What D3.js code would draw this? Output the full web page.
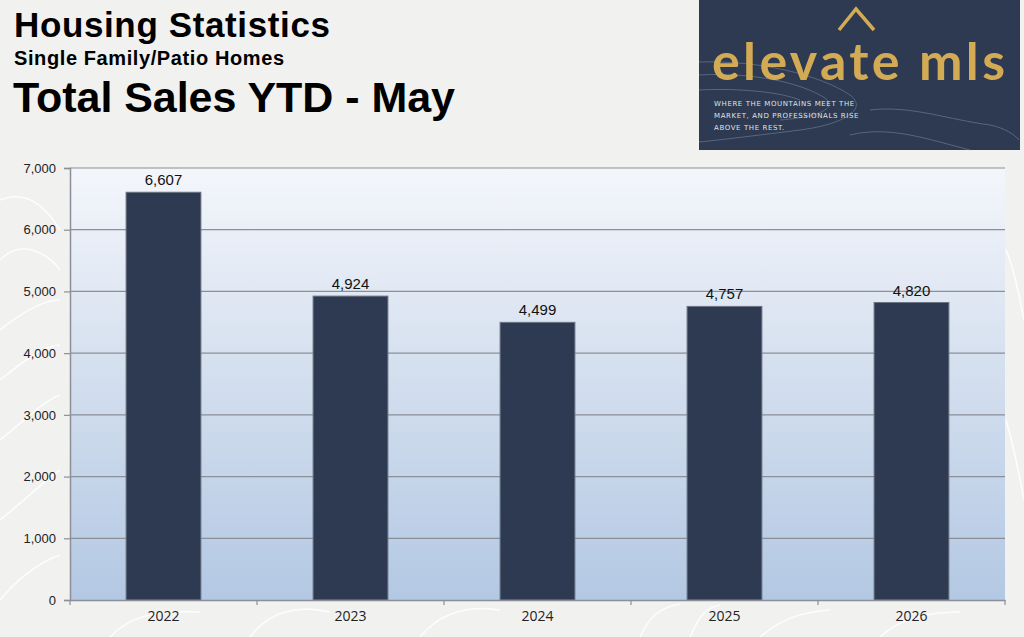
<!DOCTYPE html>
<html>
<head>
<meta charset="utf-8">
<script src="https://cdn.jsdelivr.net/npm/d3@7"></script>
<style>
  html, body { margin: 0; padding: 0; background: #f1f1f0; }
  svg { display: block; }
</style>
</head>
<body>
<svg id="chart" width="1024" height="637"></svg>
<script>
const categories = ["2022", "2023", "2024", "2025", "2026"];
const values = [6607, 4924, 4499, 4757, 4820];
const yTicks = [0, 1000, 2000, 3000, 4000, 5000, 6000, 7000];
const titleLines = ["Housing Statistics", "Single Family/Patio Homes", "Total Sales YTD - May"];
const logoName = "elevate mls";
const logoTagline = ["WHERE THE MOUNTAINS MEET THE", "MARKET, AND PROFESSIONALS RISE", "ABOVE THE REST."];

const svg = d3.select("#chart");
const W = 1024, H = 637;
const m = { left: 70, right: 19, top: 168, bottom: 37 };
const pw = W - m.left - m.right, ph = H - m.top - m.bottom;

const defs = svg.append("defs");
const grad = defs.append("linearGradient").attr("id", "plotGrad")
  .attr("x1", 0).attr("y1", 0).attr("x2", 0).attr("y2", 1);
grad.append("stop").attr("offset", "0%").attr("stop-color", "#f4f6fb");
grad.append("stop").attr("offset", "45%").attr("stop-color", "#d5e0ef");
grad.append("stop").attr("offset", "100%").attr("stop-color", "#b3c8e3");

// page background
svg.append("rect").attr("width", W).attr("height", H).attr("fill", "#f1f1f0");

// faint contour lines in background
const contour = svg.append("g").attr("fill", "none").attr("stroke", "#ffffff").attr("stroke-width", 1.6).attr("opacity", 0.9);
const contourPaths = [
  "M0,200 C25,190 45,205 60,230",
  "M0,260 C20,240 45,250 60,270",
  "M0,330 C25,310 45,300 60,300",
  "M0,380 C25,360 45,345 60,345",
  "M0,440 C25,420 45,400 60,395",
  "M0,520 C25,500 45,480 60,470",
  "M0,600 C20,575 45,560 60,555",
  "M110,637 C130,615 160,610 200,612",
  "M250,637 C270,610 300,605 330,612",
  "M420,637 C440,612 470,605 500,610",
  "M640,637 C650,615 660,608 680,604",
  "M690,637 C700,615 705,608 720,605",
  "M760,637 C780,620 800,612 830,610",
  "M880,637 C900,618 930,612 960,612",
  "M1006,250 C1015,270 1020,300 1024,320",
  "M1006,420 C1015,450 1020,480 1024,500"
];
contour.selectAll("path").data(contourPaths).join("path").attr("d", d => d);

// titles
const tf = "Liberation Sans, Arial, sans-serif";
svg.append("text").attr("x", 14).attr("y", 37).text(titleLines[0])
  .attr("font-family", tf).attr("font-weight", "bold")
  .attr("font-size", 35).attr("textLength", 316).attr("fill", "#000");
svg.append("text").attr("x", 14).attr("y", 65).text(titleLines[1])
  .attr("font-family", tf).attr("font-weight", "bold")
  .attr("font-size", 20).attr("textLength", 270).attr("fill", "#000");
svg.append("text").attr("x", 13).attr("y", 112).text(titleLines[2])
  .attr("font-family", tf).attr("font-weight", "bold")
  .attr("font-size", 43).attr("textLength", 442).attr("fill", "#000");

// logo
const logo = svg.append("g");
logo.append("rect").attr("x", 699).attr("y", 0).attr("width", 321).attr("height", 150).attr("fill", "#2d3a51");
const lc = logo.append("g").attr("fill", "none").attr("stroke", "#7d8aa3").attr("stroke-width", 1).attr("opacity", 0.55);
["M699,62 C760,60 820,75 850,95 C870,110 840,125 800,130 C760,135 720,140 699,142",
 "M699,75 C750,72 800,82 825,98 C840,110 810,118 780,120",
 "M699,90 C740,88 780,92 800,100",
 "M870,110 C910,105 950,120 990,125 C1005,128 1015,135 1019,140",
 "M850,135 C890,125 930,140 970,150"].forEach(d => lc.append("path").attr("d", d));
logo.append("path").attr("d", "M839,30 L856,9 L874,30")
  .attr("fill", "none").attr("stroke", "#d4ab55").attr("stroke-width", 3.5);
logo.append("text").attr("x", 712).attr("y", 80)
  .attr("font-family", "Lato, Inter, sans-serif").attr("font-weight", "bold")
  .attr("font-size", 52).attr("fill", "#d4ab55").attr("textLength", 293).text(logoName);
logo.selectAll("text.tag").data(logoTagline).join("text").attr("class", "tag")
  .attr("x", 714).attr("y", (d, i) => 106 + i * 12)
  .attr("font-family", "DejaVu Sans, sans-serif").attr("font-size", 7)
  .attr("letter-spacing", 0.6).attr("fill", "#dfe3ea").text(d => d);

// scales
const x = d3.scaleBand().domain(categories).range([m.left, m.left + pw]).paddingInner(0.6).paddingOuter(0.3);
const y = d3.scaleLinear().domain([0, 7000]).range([m.top + ph, m.top]);

// plot area
svg.append("rect").attr("x", m.left).attr("y", m.top).attr("width", pw).attr("height", ph).attr("fill", "url(#plotGrad)");

// gridlines
svg.append("g").selectAll("line").data(yTicks.filter(d => d > 0)).join("line")
  .attr("x1", m.left).attr("x2", m.left + pw)
  .attr("y1", d => y(d)).attr("y2", d => y(d))
  .attr("stroke", "#8a8f98").attr("stroke-width", 1.2);

// bars
svg.append("g").selectAll("rect").data(values).join("rect")
  .attr("x", (d, i) => x(categories[i]))
  .attr("y", d => y(d))
  .attr("width", x.bandwidth())
  .attr("height", d => y(0) - y(d))
  .attr("fill", "#2d3a52").attr("stroke", "#6b7382").attr("stroke-width", 1);

// value labels
svg.append("g").selectAll("text").data(values).join("text")
  .attr("x", (d, i) => x(categories[i]) + x.bandwidth() / 2)
  .attr("y", d => y(d) - 7)
  .attr("text-anchor", "middle")
  .attr("font-family", tf).attr("font-size", 15)
  .attr("fill", "#111").text(d => d3.format(",")(d));

// y axis
const yAxis = svg.append("g").attr("transform", `translate(${m.left},0)`)
  .call(d3.axisLeft(y).tickValues(yTicks).tickFormat(d3.format(",")).tickSize(6).tickPadding(8));
yAxis.select(".domain").attr("stroke", "#8a8f98").attr("stroke-width", 1.5);
yAxis.selectAll(".tick line").attr("stroke", "#8a8f98").attr("stroke-width", 1.2);
yAxis.selectAll(".tick text").attr("font-family", tf)
  .attr("font-size", 13).attr("fill", "#222");

// x axis
const xAxis = svg.append("g").attr("transform", `translate(0,${m.top + ph})`)
  .call(d3.axisBottom(x).tickSize(0).tickPadding(11));
xAxis.select(".domain").attr("stroke", "#8a8f98").attr("stroke-width", 1.5);
xAxis.selectAll(".tick text").attr("font-family", "Open Sans, Lato, sans-serif")
  .attr("font-size", 14).attr("fill", "#222");
// category boundary tick marks
const bounds = d3.range(categories.length + 1).map(i => m.left + i * x.step());
xAxis.selectAll("line.bound").data(bounds).join("line").attr("class", "bound")
  .attr("x1", d => d).attr("x2", d => d)
  .attr("y1", 0).attr("y2", 5)
  .attr("stroke", "#8a8f98").attr("stroke-width", 1.2);
</script>
</body>
</html>
